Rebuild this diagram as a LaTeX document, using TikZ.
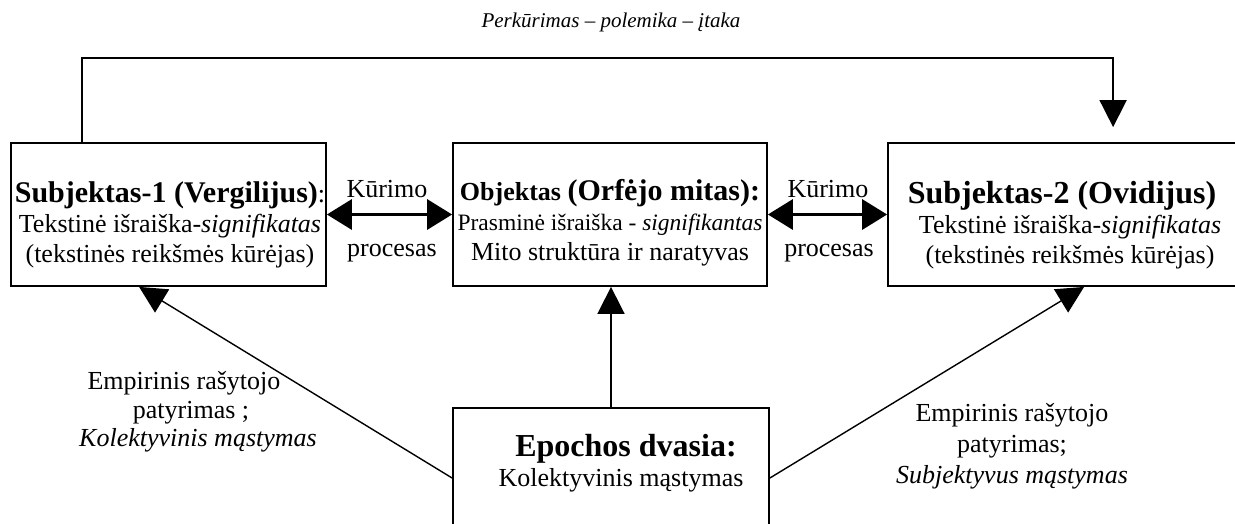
\documentclass[tikz,border=0pt]{standalone}
\usepackage{fontspec}
\setmainfont{Liberation Serif}
\usetikzlibrary{arrows.meta,calc}
\begin{document}
\begin{tikzpicture}[x=1pt,y=-1pt,
  box/.style={draw, line width=1.8pt, inner sep=0pt},
  txt/.style={align=center, inner sep=0pt, font=\fontsize{26}{30}\selectfont},
  conn/.style={line width=1.7pt},
  diag/.style={line width=1.4pt},
  tri/.style={-{Triangle[length=27pt,width=27pt]}},
  dbl/.style={line width=3.3pt,{Triangle[length=25pt,width=30pt]}-{Triangle[length=25pt,width=30pt]}},
]
\useasboundingbox (0,0) rectangle (1235,523);

% boxes
\node[box, minimum width=315pt, minimum height=143pt] (s1) at (168.5,214.5) {};
\node[box, minimum width=314pt, minimum height=143pt] (ob) at (610,214.5) {};
\node[box, minimum width=360pt, minimum height=143pt] (s3) at (1068,214.5) {};
\node[box, minimum width=316pt, minimum height=140pt] (ep) at (611,478) {};

% box texts
\node[txt] (s1t) at (170,225) {{\fontsize{30}{30}\selectfont\bfseries Subjektas-1 (Vergilijus)}:\\
  Tekstinė išraiška-\textit{signifikatas}\\
  (tekstinės reikšmės kūrėjas)};
\node[txt] (obt) at (610,223) {{\bfseries Objektas} {\fontsize{30}{30}\selectfont\bfseries (Orfėjo mitas):}\\
  {\fontsize{23.5}{30}\selectfont Prasminė išraiška - \textit{signifikantas}}\\
  Mito struktūra ir naratyvas};
\node[txt] (s3t) at (1070,225) {{\fontsize{32}{32}\selectfont\bfseries Subjektas-2 (Ovidijus)}\hspace*{16pt}\\
  Tekstinė išraiška-\textit{signifikatas}\\
  (tekstinės reikšmės kūrėjas)};
\node[txt] (ept) at (621,463) {{\fontsize{32}{32}\selectfont\bfseries Epochos dvasia:}\hspace*{-10pt}\\
  Kolektyvinis mąstymas};

% process labels
\node[txt] (k1) at (387,189) {Kūrimo};
\node[txt] (p1) at (392,253) {procesas};
\node[txt] (k2) at (828,189) {Kūrimo};
\node[txt] (p2) at (829,253) {procesas};

% side labels
\node[txt, font=\fontsize{26}{28.5}\selectfont] (lab1) at (191,412) {Empirinis rašytojo\hspace*{14pt}\\
  patyrimas ;\hspace*{14pt}\\
  \hspace*{14pt}\textit{Kolektyvinis mąstymas}};
\node[txt, font=\fontsize{26}{31}\selectfont] (lab3) at (1012,446) {Empirinis rašytojo\\
  patyrimas;\hspace*{46pt}\\
  \textit{Subjektyvus mąstymas}};
\node[txt, font=\fontsize{21}{24}\selectfont] (top) at (611,22) {\textit{Perkūrimas – polemika – įtaka}};

% connectors
\coordinate (lvl) at (0,58);
\coordinate (s1up) at ([xshift=72pt]s1.north west);
\coordinate (s3in) at ([xshift=226pt,yshift=15pt]s3.north west);
\coordinate (t1) at ([xshift=129pt]s1.south west);
\coordinate (t3) at ([xshift=197pt]s3.south west);

\draw[conn, tri] (s1up) -- (s1up |- lvl) -| (s3in);
\draw[conn, tri] (ep.north) -- (ep.north |- ob.south);
\draw[diag, tri] (ep.west) -- (t1);
\draw[diag, tri] (ep.east) -- (t3);
\draw[dbl] (s1.east) -- (ob.west);
\draw[dbl] (ob.east) -- (s3.west);
\end{tikzpicture}
\end{document}
